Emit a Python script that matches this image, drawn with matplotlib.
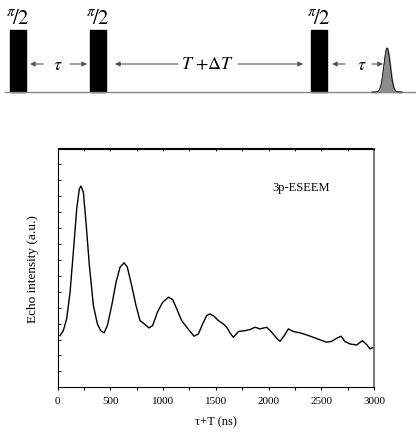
import numpy as np
import matplotlib.pyplot as plt
from matplotlib.ticker import MultipleLocator

plt.rcParams['font.family'] = ['Liberation Serif', 'DejaVu Serif']
plt.rcParams['mathtext.fontset'] = 'stix'

# 3p-ESEEM trace (ns, arbitrary units)
t_ns = [24, 55, 87, 119, 150, 182, 207, 223, 245, 270, 302, 340, 378, 409, 441,
        473, 514, 555, 593, 631, 662, 703, 744, 782, 823, 868, 902, 947, 997,
        1051, 1092, 1130, 1177, 1225, 1294, 1335, 1376, 1414, 1446, 1484, 1525,
        1572, 1604, 1635, 1667, 1714, 1778, 1825, 1872, 1920, 1983, 2030, 2078,
        2109, 2150, 2188, 2236, 2299, 2362, 2425, 2489, 2552, 2599, 2647, 2688,
        2726, 2773, 2836, 2890, 2931, 2963, 2994]
echo = [3.25, 3.56, 4.30, 5.97, 8.49, 11.21, 12.47, 12.64, 12.26, 10.38, 7.65,
        5.14, 3.98, 3.56, 3.42, 3.88, 5.14, 6.60, 7.55, 7.82, 7.55, 6.39, 5.14,
        4.19, 3.98, 3.73, 3.88, 4.72, 5.34, 5.66, 5.51, 4.93, 4.19, 3.77, 3.21,
        3.35, 3.98, 4.51, 4.61, 4.46, 4.19, 3.98, 3.77, 3.42, 3.14, 3.50, 3.56,
        3.63, 3.77, 3.67, 3.77, 3.46, 3.08, 2.89, 3.25, 3.67, 3.50, 3.42, 3.29,
        3.14, 2.98, 2.83, 2.89, 3.08, 3.21, 2.87, 2.72, 2.66, 2.93, 2.68, 2.41,
        2.52]

# pulse sequence sketch (pixel-like units of the top panel)
pulse_left = [10, 90, 311]
pulse_width = 16
pulse_top = 31
baseline_y = 93
echo_x = 387
echo_top = 49

fig = plt.figure(figsize=(4.16, 4.35), dpi=100)

# ---- pulse sequence ----
ax0 = fig.add_axes([0, 1 - 110 / 435, 1, 110 / 435])
ax0.set_xlim(0, 416)
ax0.set_ylim(110, 0)
ax0.axis('off')
ax0.plot([5, 416], [baseline_y, baseline_y], color='#888888', lw=1.0)
for xl in pulse_left:
    ax0.add_patch(plt.Rectangle((xl, pulse_top), pulse_width, baseline_y - pulse_top,
                                color='black'))
    ax0.text(xl + pulse_width / 2, pulse_top - 2, r'$^{\pi}\!/2$', ha='center',
             va='bottom', fontsize=15)
gx = np.linspace(echo_x - 15, echo_x + 15, 200)
gy = baseline_y - (baseline_y - echo_top) * np.exp(-((gx - echo_x) / 4.5) ** 2)
ax0.fill_between(gx, gy, baseline_y, color='#8c8c8c')
ax0.plot(gx, gy, color='black', lw=0.6)

arrow_y = 65
arrows = [(43, 30), (70, 87), (178, 115), (238, 303), (345, 332), (372, 383)]
for x0, x1 in arrows:
    ax0.annotate('', xy=(x1, arrow_y), xytext=(x0, arrow_y),
                 arrowprops=dict(arrowstyle='-|>', color='#555555', lw=0.8,
                                 mutation_scale=7, shrinkA=0, shrinkB=0))
ax0.text(58, arrow_y, r'$\tau$', ha='center', va='center', fontsize=13)
ax0.text(362, arrow_y, r'$\tau$', ha='center', va='center', fontsize=13)
ax0.text(208, arrow_y, r'$T\ {+}\Delta T$', ha='center', va='center', fontsize=13)

# ---- ESEEM trace ----
ax = fig.add_axes([57.5 / 416, 1 - 388.3 / 435, 316.5 / 416, 238.8 / 435])
ax.plot(t_ns, echo, color='black', lw=1.0)
ax.set_xlim(0, 3000)
ax.set_ylim(0, 15)
ax.xaxis.set_major_locator(MultipleLocator(500))
ax.xaxis.set_minor_locator(MultipleLocator(250))
ax.yaxis.set_major_locator(MultipleLocator(1))
ax.set_yticklabels([])
ax.tick_params(axis='x', which='both', direction='out', top=False, labelsize=8,
               length=2.5, width=0.8)
ax.tick_params(axis='y', which='both', direction='in', length=2.5, width=0.6)
sec = ax.secondary_xaxis('top')
sec.xaxis.set_major_locator(MultipleLocator(250))
sec.tick_params(direction='in', length=2, width=0.6, labeltop=False)
ax.spines['right'].set_color('#777777')
ax.spines['right'].set_linewidth(1.4)
ax.set_xlabel('τ+T (ns)', fontsize=9, labelpad=8)
ax.set_ylabel('Echo intensity (a.u.)', fontsize=9.5, labelpad=10)
ax.text(0.77, 0.84, '3p-ESEEM', transform=ax.transAxes, ha='center', va='center',
        fontsize=9)

fig.savefig('out.png', dpi=100)
